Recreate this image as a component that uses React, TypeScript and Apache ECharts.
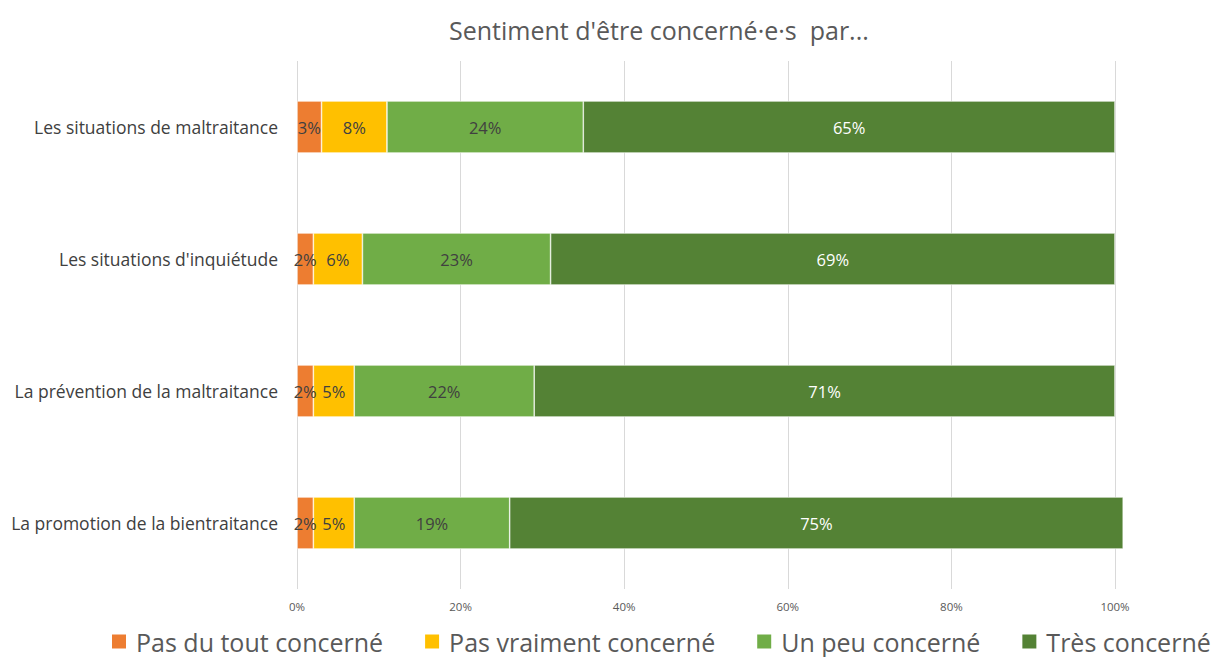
import React, { useEffect, useRef } from "react";
import * as echarts from "echarts";

const categories = [
  "Les situations de maltraitance",
  "Les situations d'inquiétude",
  "La prévention de la maltraitance",
  "La promotion de la bientraitance",
];
const seriesNames = ["Pas du tout concerné", "Pas vraiment concerné", "Un peu concerné", "Très concerné"];
const pasDuTout = [3, 2, 2, 2];
const pasVraiment = [8, 6, 5, 5];
const unPeu = [24, 23, 22, 19];
const tres = [65, 69, 71, 75];
const xTicks = [0, 20, 40, 60, 80, 100];
const colors = ["#ED7D31", "#FFC000", "#70AD47", "#548235"];
const labelColors = ["#404040", "#404040", "#404040", "#ffffff"];

export default function App() {
  const ref = useRef<HTMLDivElement>(null);
  useEffect(() => {
    const chart = echarts.init(ref.current!, null, { renderer: "svg" });
    const font = "Open Sans";
    const values = [pasDuTout, pasVraiment, unPeu, tres];
    chart.setOption({
      animation: false,
      textStyle: { fontFamily: font },
      title: {
        text: "Sentiment d'être concerné·e·s  par...",
        left: 444,
        top: 12,
        textStyle: { fontFamily: font, fontSize: 25, fontWeight: "normal", color: "#595959" },
      },
      legend: {
        bottom: 3,
        left: 110,
        width: 1102,
        padding: 0,
        itemWidth: 16,
        itemHeight: 16,
        itemGap: 40,
        icon: "rect",
        textStyle: { fontFamily: font, fontSize: 25, color: "#595959", padding: [0, 0, 0, 4] },
        data: seriesNames,
      },
      grid: { left: 297, right: 97, top: 61, bottom: 68, containLabel: false },
      xAxis: {
        type: "value",
        min: 0,
        max: 100,
        interval: 20,
        axisLine: { show: false },
        axisTick: { show: false },
        splitLine: { show: true, lineStyle: { color: "#D9D9D9", width: 1 } },
        axisLabel: {
          formatter: (v: number) => (xTicks.includes(v) ? v + "%" : ""),
          fontSize: 11.5,
          color: "#595959",
          margin: 11,
          fontFamily: font,
        },
      },
      yAxis: {
        type: "category",
        data: categories,
        inverse: true,
        axisLine: { show: false },
        axisTick: { show: false },
        axisLabel: { fontSize: 17.5, color: "#404040", margin: 19, fontFamily: font },
      },
      series: seriesNames.map((name, i) => ({
        name,
        type: "bar",
        stack: "total",
        clip: false,
        barWidth: 52,
        data: values[i],
        itemStyle: { color: colors[i], borderColor: "#ffffff", borderWidth: 0.6 },
        label: {
          show: true,
          position: "inside",
          formatter: "{c}%",
          fontSize: 16.5,
          color: labelColors[i],
          fontFamily: font,
          textBorderWidth: 0,
        },
      })),
    });
    return () => chart.dispose();
  }, []);
  return <div ref={ref} style={{ width: 1212, height: 657, position: "absolute", left: 0, top: 0 }} />;
}
